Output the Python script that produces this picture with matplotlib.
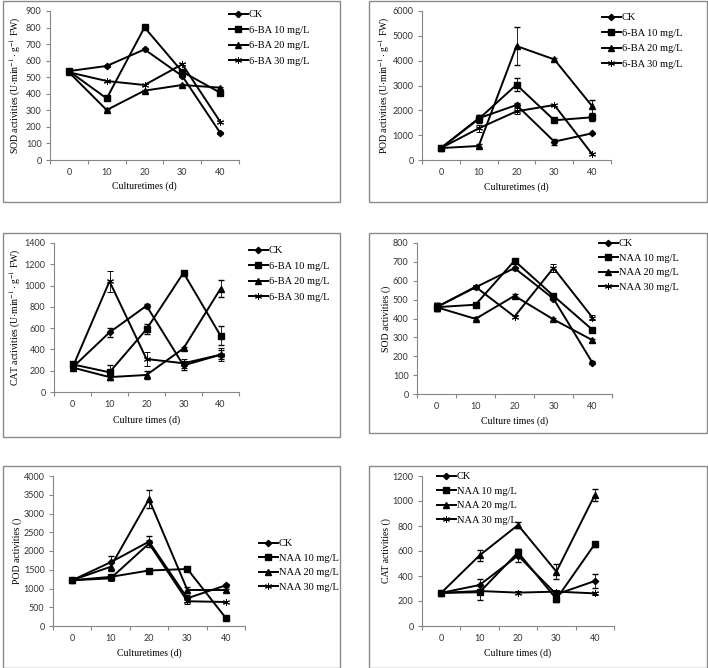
import matplotlib
matplotlib.use("Agg")
import matplotlib.pyplot as plt
from matplotlib.patches import Rectangle
from matplotlib.lines import Line2D

W, H = 708, 668
days = [0, 10, 20, 30, 40]

# Panel A: SOD, 6-BA
sod_ba_ck = [537, 568, 668, 507, 165]
sod_ba_10 = [537, 372, 801, 533, 407]
sod_ba_20 = [530, 302, 419, 453, 437]
sod_ba_30 = [530, 477, 453, 578, 232]
sod_ba_err_ck = [6, 6, 6, 6, 6]
sod_ba_err_10 = [6, 6, 6, 6, 6]
sod_ba_err_20 = [6, 6, 6, 6, 6]
sod_ba_err_30 = [6, 6, 6, 6, 6]

# Panel B: POD, 6-BA
pod_ba_ck = [480, 1680, 2215, 740, 1075]
pod_ba_10 = [480, 1650, 3030, 1600, 1720]
pod_ba_20 = [480, 565, 4590, 4050, 2170]
pod_ba_30 = [480, 1275, 1960, 2215, 240]
pod_ba_err_ck = [20, 120, 80, 120, 30]
pod_ba_err_10 = [20, 150, 270, 50, 130]
pod_ba_err_20 = [20, 60, 750, 50, 260]
pod_ba_err_30 = [20, 150, 120, 50, 30]

# Panel C: CAT, 6-BA
cat_ba_ck = [230, 560, 810, 250, 350]
cat_ba_10 = [260, 185, 590, 1120, 530]
cat_ba_20 = [230, 140, 160, 410, 970]
cat_ba_30 = [230, 1040, 310, 270, 350]
cat_ba_err_ck = [20, 45, 20, 40, 40]
cat_ba_err_10 = [20, 70, 45, 15, 90]
cat_ba_err_20 = [20, 20, 35, 15, 80]
cat_ba_err_30 = [20, 100, 65, 40, 60]

# Panel D: SOD, NAA
sod_naa_ck = [460, 565, 667, 505, 165]
sod_naa_10 = [460, 473, 706, 520, 340]
sod_naa_20 = [460, 398, 520, 395, 285]
sod_naa_30 = [460, 568, 410, 668, 405]
sod_naa_err_ck = [20, 8, 8, 8, 8]
sod_naa_err_10 = [20, 8, 8, 8, 8]
sod_naa_err_20 = [20, 8, 8, 8, 8]
sod_naa_err_30 = [20, 8, 8, 20, 15]

# Panel E: POD, NAA
pod_naa_ck = [1220, 1700, 2250, 740, 1085]
pod_naa_10 = [1220, 1310, 1480, 1520, 215]
pod_naa_20 = [1220, 1580, 3380, 960, 960]
pod_naa_30 = [1220, 1270, 2200, 660, 640]
pod_naa_err_ck = [30, 180, 150, 100, 40]
pod_naa_err_10 = [30, 50, 30, 30, 30]
pod_naa_err_20 = [30, 100, 240, 80, 40]
pod_naa_err_30 = [30, 60, 100, 80, 30]

# Panel F: CAT, NAA
cat_naa_ck = [265, 328, 563, 253, 360]
cat_naa_10 = [265, 270, 589, 216, 655]
cat_naa_20 = [265, 565, 808, 435, 1048]
cat_naa_30 = [265, 280, 267, 275, 261]
cat_naa_err_ck = [15, 50, 50, 20, 55]
cat_naa_err_10 = [15, 60, 30, 20, 20]
cat_naa_err_20 = [15, 45, 25, 60, 45]
cat_naa_err_30 = [15, 15, 10, 10, 15]

labels_ba = ["CK", "6-BA 10 mg/L", "6-BA 20 mg/L", "6-BA 30 mg/L"]
labels_naa = ["CK", "NAA 10 mg/L", "NAA 20 mg/L", "NAA 30 mg/L"]

plt.rcParams['mathtext.fontset'] = 'stix'
SERIF = "Liberation Serif"
SANS = "Lato"
GRAY = "#868686"

fig = plt.figure(figsize=(W / 100, H / 100), dpi=100)

markers = ['D', 's', '^', (6, 2, 0)]
msizes = [3.2, 5, 4.5, 5]
mews = [1.0, 1.0, 1.0, 0.7]


def box(l, t, r, b):
    fig.patches.append(Rectangle((l / W, 1 - b / H), (r - l) / W, (b - t) / H,
                                 transform=fig.transFigure, fill=False,
                                 edgecolor="#8a8a8a", linewidth=1.0))


def panel(px, series, errs, labels, ymax, ystep, ylabel, xlabel,
          ylab_x, xlab_y, leg_xy, leg_space=0.6):
    l, t, r, b = px
    ax = fig.add_axes([l / W, 1 - b / H, (r - l) / W, (b - t) / H])
    handles = []
    for vals, err, lab, m, ms, mw in zip(series, errs, labels, markers,
                                         msizes, mews):
        ax.errorbar(days, vals, yerr=err, color='black', lw=1.4,
                    marker=m, markersize=ms, mew=mw, ecolor='black',
                    elinewidth=0.6, capsize=2, capthick=0.6)
        handles.append(Line2D([], [], color='black', lw=1.4, marker=m,
                              markersize=ms, mew=mw))
    ax.set_xlim(-5, 45)
    ax.set_ylim(0, ymax)
    ax.set_xticks([-5, 5, 15, 25, 35, 45])
    ax.set_xticklabels([])
    ax.set_xticks(days, minor=True)
    ax.set_xticklabels([str(d) for d in days], minor=True, fontfamily=SANS,
                       fontsize=6.5, color="#333333")
    yt = list(range(0, ymax + 1, ystep))
    ax.set_yticks(yt)
    ax.set_yticklabels([str(v) for v in yt], fontfamily=SANS, fontsize=6.5,
                       color="#333333")
    ax.tick_params(axis='x', which='major', length=3, direction='out',
                   color=GRAY, width=0.8)
    ax.tick_params(axis='x', which='minor', length=0, pad=6)
    ax.tick_params(axis='y', length=3, direction='out', color=GRAY,
                   width=0.8, pad=3)
    for s in ['top', 'right']:
        ax.spines[s].set_visible(False)
    for s in ['left', 'bottom']:
        ax.spines[s].set_color(GRAY)
        ax.spines[s].set_linewidth(0.8)
    ax.set_ylabel(ylabel, fontfamily=SERIF, fontsize=7)
    ax.set_xlabel(xlabel, fontfamily=SERIF, fontsize=7)
    ax.yaxis.set_label_coords(ylab_x, 0.5)
    ax.xaxis.set_label_coords(0.5, xlab_y)
    fig.legend(handles, labels, loc='upper left',
               bbox_to_anchor=(leg_xy[0] / W, 1 - leg_xy[1] / H),
               bbox_transform=fig.transFigure, frameon=False,
               prop={'family': SERIF, 'size': 7.5}, handlelength=1.8,
               handletextpad=0.1, labelspacing=leg_space, borderpad=0,
               borderaxespad=0)
    return ax


unit = r' (U$\cdot$min$^{-1}\cdot$g$^{-1}$ FW)'

box(3, 1, 340, 202)
panel((50, 11, 239, 160),
      [sod_ba_ck, sod_ba_10, sod_ba_20, sod_ba_30],
      [sod_ba_err_ck, sod_ba_err_10, sod_ba_err_20, sod_ba_err_30],
      labels_ba, 900, 100, 'SOD activities' + unit, 'Culturetimes (d)',
      -0.143, -0.141, (229, 10))

box(369, 1, 707, 202)
panel((422, 11, 611, 160),
      [pod_ba_ck, pod_ba_10, pod_ba_20, pod_ba_30],
      [pod_ba_err_ck, pod_ba_err_10, pod_ba_err_20, pod_ba_err_30],
      labels_ba, 6000, 1000, 'POD activities' + unit, 'Culturetimes (d)',
      -0.159, -0.148, (602, 13))

box(3, 233, 340, 437)
panel((54, 243, 239, 392),
      [cat_ba_ck, cat_ba_10, cat_ba_20, cat_ba_30],
      [cat_ba_err_ck, cat_ba_err_10, cat_ba_err_20, cat_ba_err_30],
      labels_ba, 1400, 200, 'CAT activities' + unit, 'Culture times (d)',
      -0.168, -0.154, (249, 246))

box(369, 233, 707, 433)
panel((417, 243, 612, 394),
      [sod_naa_ck, sod_naa_10, sod_naa_20, sod_naa_30],
      [sod_naa_err_ck, sod_naa_err_10, sod_naa_err_20, sod_naa_err_30],
      labels_naa, 800, 100, 'SOD activities ()', 'Culture times (d)',
      -0.133, -0.146, (599, 239), 0.5)

box(3, 466, 340, 668)
panel((53, 476, 245, 626),
      [pod_naa_ck, pod_naa_10, pod_naa_20, pod_naa_30],
      [pod_naa_err_ck, pod_naa_err_10, pod_naa_err_20, pod_naa_err_30],
      labels_naa, 4000, 500, 'POD activities ()', 'Culturetimes (d)',
      -0.16, -0.147, (259, 539), 0.5)

box(369, 466, 707, 668)
panel((422, 476, 614, 626),
      [cat_naa_ck, cat_naa_10, cat_naa_20, cat_naa_30],
      [cat_naa_err_ck, cat_naa_err_10, cat_naa_err_20, cat_naa_err_30],
      labels_naa, 1200, 200, 'CAT activities ()', 'Culture times (d)',
      -0.161, -0.147, (437, 472), 0.5)

fig.savefig("out.png", dpi=100)
